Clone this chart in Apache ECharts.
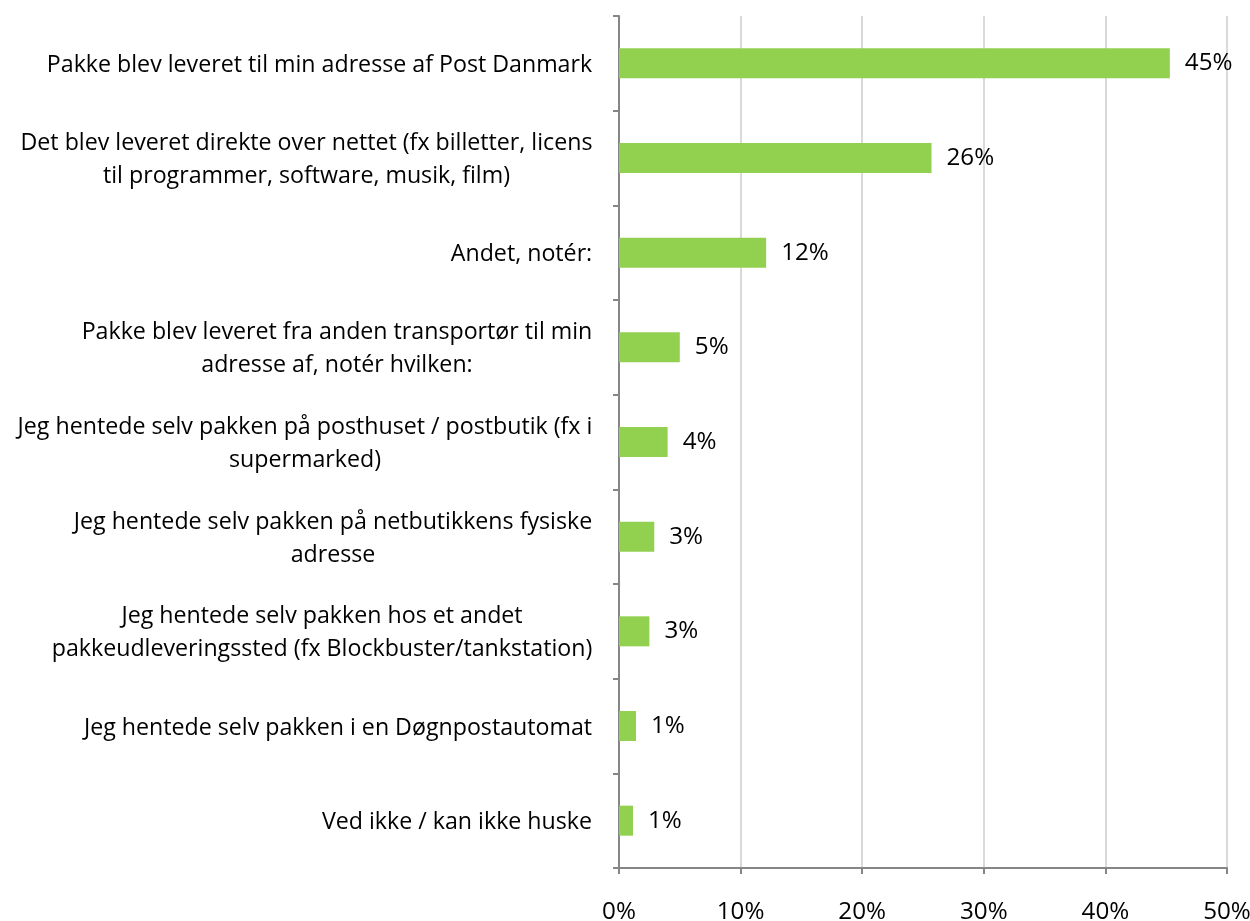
<!DOCTYPE html>
<html><head><meta charset="utf-8">
<script src="https://cdn.jsdelivr.net/npm/echarts@6/dist/echarts.min.js"></script>
<style>html,body{margin:0;padding:0;background:#fff}#c{width:1250px;height:921px}</style>
</head><body><div id="c"></div>
<script>
const categories = [
  "Pakke blev leveret til min adresse af Post Danmark",
  "Det blev leveret direkte over nettet (fx billetter, licens\ntil programmer, software, musik, film)",
  "Andet, notér:",
  "Pakke blev leveret fra anden transportør til min\nadresse af, notér hvilken:",
  "Jeg hentede selv pakken på posthuset / postbutik (fx i\nsupermarked)",
  "Jeg hentede selv pakken på netbutikkens fysiske\nadresse",
  "Jeg hentede selv pakken hos et andet\npakkeudleveringssted (fx Blockbuster/tankstation)",
  "Jeg hentede selv pakken i en Døgnpostautomat",
  "Ved ikke / kan ikke huske"
];
const values = [45.3, 25.7, 12.1, 5.0, 4.0, 2.9, 2.5, 1.4, 1.15];
const xTicks = [0, 10, 20, 30, 40, 50];

const FAMILY = '"Open Sans", sans-serif';
const cv = document.createElement('canvas').getContext('2d');
function tw(s, size) { cv.font = size + 'px ' + FAMILY; return cv.measureText(s).width; }
// fit font so the first label is as wide as in the reference
const FS = Math.round(545 / tw(categories[0], 100) * 100 * 10) / 10;

const rich = {};
categories.forEach((c, i) => {
  const w = Math.max(...c.split('\n').map(l => tw(l, FS)));
  rich['c' + i] = { width: Math.ceil(w) + 1, align: 'center', fontSize: FS, fontFamily: FAMILY, color: '#000', lineHeight: 33 };
});

const chart = echarts.init(document.getElementById('c'));
chart.setOption({
  animation: false,
  grid: { left: 619, right: 23, top: 16, bottom: 53, containLabel: false, outerBoundsMode: 'none' },
  xAxis: {
    type: 'value', min: xTicks[0], max: xTicks[xTicks.length - 1], interval: 10,
    axisLine: { show: true, lineStyle: { color: '#868686', width: 2 } },
    axisTick: { show: true, length: 6, lineStyle: { color: '#868686', width: 2 } },
    splitLine: { show: true, lineStyle: { color: '#D9D9D9', width: 2 } },
    axisLabel: { formatter: '{value}%', fontSize: FS + 1, fontFamily: FAMILY, color: '#000', margin: 32 }
  },
  yAxis: {
    type: 'category', inverse: true, data: categories,
    axisLine: { show: true, lineStyle: { color: '#868686', width: 2 } },
    axisTick: { show: true, length: 6, lineStyle: { color: '#868686', width: 2 } },
    axisLabel: {
      margin: 26, align: 'right', fontSize: FS, fontFamily: FAMILY, color: '#000', lineHeight: 33,
      padding: [4, 0, 0, 0],
      formatter: (v, idx) => v.split('\n').map(l => '{c' + idx + '|' + l + '}').join('\n'),
      rich: rich
    }
  },
  series: [{
    type: 'bar', data: values, barWidth: 30,
    itemStyle: { color: '#92D050' },
    label: {
      show: true, position: 'right', distance: 15, padding: [4, 0, 0, 0],
      formatter: p => Math.round(p.value) + '%',
      fontSize: FS + 1, fontFamily: FAMILY, color: '#000'
    }
  }]
});
</script></body></html>
